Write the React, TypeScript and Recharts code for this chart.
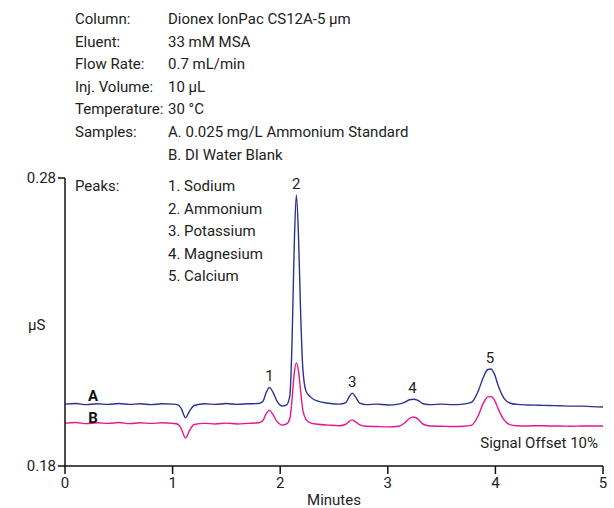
import React from 'react';
import {
  ComposedChart,
  Line,
  XAxis,
  YAxis,
  ReferenceDot,
} from 'recharts';

// retention time (min)
const minutes = [
  0, 0.1, 0.2, 0.3, 0.4, 0.5, 0.6, 0.7, 0.8, 0.9, 1.0, 1.05, 1.08, 1.12, 1.16, 1.2,
  1.3, 1.4, 1.5, 1.6, 1.7, 1.8, 1.84, 1.87, 1.9, 1.93, 1.97, 2.02, 2.06, 2.09, 2.11,
  2.13, 2.15, 2.17, 2.19, 2.21, 2.24, 2.28, 2.35, 2.45, 2.55, 2.61, 2.64, 2.67, 2.7,
  2.74, 2.8, 2.9, 3.0, 3.1, 3.16, 3.2, 3.24, 3.28, 3.33, 3.4, 3.5, 3.6, 3.7, 3.78,
  3.84, 3.89, 3.93, 3.96, 3.99, 4.03, 4.08, 4.14, 4.2, 4.3, 4.4, 4.5, 4.6, 4.7, 4.8,
  4.9, 5.0,
];

// A. 0.025 mg/L ammonium standard (µS)
const sampleA = [
  0.2015, 0.2017, 0.2013, 0.2016, 0.2014, 0.2017, 0.2014, 0.2016, 0.2013, 0.2016,
  0.2015, 0.2012, 0.2, 0.1968, 0.1992, 0.201, 0.2016, 0.2014, 0.2017, 0.2014, 0.2016,
  0.2017, 0.2025, 0.2055, 0.2073, 0.2058, 0.2025, 0.2008, 0.2012, 0.2045, 0.223,
  0.256, 0.2741, 0.26, 0.233, 0.214, 0.206, 0.204, 0.2025, 0.2018, 0.2015, 0.202,
  0.204, 0.2053, 0.204, 0.2018, 0.2013, 0.2015, 0.2012, 0.2015, 0.2022, 0.203,
  0.2032, 0.2028, 0.2016, 0.2013, 0.2015, 0.2013, 0.2015, 0.2022, 0.206, 0.211,
  0.2135, 0.2137, 0.212, 0.2075, 0.2035, 0.2018, 0.2014, 0.2012, 0.2011, 0.201,
  0.2009, 0.2008, 0.2008, 0.2006, 0.2005,
];

// B. DI water blank (µS)
const sampleB = [
  0.1949, 0.1951, 0.1947, 0.195, 0.1948, 0.1951, 0.1947, 0.195, 0.1948, 0.195,
  0.1948, 0.1945, 0.193, 0.1897, 0.1925, 0.1944, 0.1948, 0.1946, 0.1949, 0.1946,
  0.1948, 0.195, 0.1958, 0.1982, 0.1994, 0.198, 0.1955, 0.1942, 0.1946, 0.1965,
  0.203, 0.212, 0.2158, 0.213, 0.206, 0.1995, 0.1962, 0.195, 0.1945, 0.1942, 0.194,
  0.1945, 0.1955, 0.196, 0.1953, 0.1943, 0.1938, 0.1937, 0.1936, 0.1938, 0.195,
  0.1965, 0.197, 0.1963, 0.1945, 0.1939, 0.1938, 0.1937, 0.1938, 0.1942, 0.1975,
  0.202, 0.204, 0.2041, 0.203, 0.1995, 0.196, 0.1943, 0.194, 0.1939, 0.194, 0.1939,
  0.1939, 0.1938, 0.1939, 0.1939, 0.1939,
];

const peakNumbers = ['1', '2', '3', '4', '5'];
const peakTimes = [1.9, 2.15, 2.67, 3.23, 3.95];
const peakTops = [0.2073, 0.2741, 0.2053, 0.2032, 0.2137];

// trace tags "A" / "B" sit just above each trace near the start
const traceTags = ['A', 'B'];
const traceTagTime = 0.26;
const traceTagLevel = [0.2015, 0.1949];

const infoLabels = ['Column:', 'Eluent:', 'Flow Rate:', 'Inj. Volume:', 'Temperature:', 'Samples:', ''];
const infoValues = [
  'Dionex IonPac CS12A-5 µm',
  '33 mM MSA',
  '0.7 mL/min',
  '10 µL',
  '30 °C',
  'A. 0.025 mg/L Ammonium Standard',
  'B. DI Water Blank',
];
const peakNames = ['1. Sodium', '2. Ammonium', '3. Potassium', '4. Magnesium', '5. Calcium'];

const xTicks = [0, 1, 2, 3, 4, 5];
const yTicks = [0.18, 0.28];

const FONT = '"Roboto", "Liberation Sans", sans-serif';
const BLUE = '#2f3192';
const PINK = '#e9168c';

const data = minutes.map((t, i) => ({ t, a: sampleA[i], b: sampleB[i] }));

const txt: React.CSSProperties = {
  position: 'absolute',
  fontSize: 15,
  color: '#222',
  whiteSpace: 'nowrap',
  lineHeight: '18px',
};

export default function App() {
  return (
    <div style={{ position: 'absolute', left: 0, top: 0, width: 614, height: 508, background: '#fff', fontFamily: FONT }}>
      <ComposedChart
        width={614}
        height={508}
        data={data}
        margin={{ top: 178, right: 11, bottom: 0, left: 5 }}
        style={{ fontFamily: FONT }}
      >
        <XAxis
          dataKey="t"
          type="number"
          domain={[0, 5]}
          ticks={xTicks}
          interval={0}
          height={42}
          tickSize={8}
          tickMargin={3}
          axisLine={{ stroke: '#111', strokeWidth: 1.5 }}
          tickLine={{ stroke: '#111', strokeWidth: 1.5 }}
          tick={{ fill: '#222', fontSize: 15 }}
          label={{ value: 'Minutes', position: 'insideBottom', offset: 3, fill: '#222', fontSize: 15 }}
        />
        <YAxis
          type="number"
          domain={[0.18, 0.28]}
          ticks={yTicks}
          interval={0}
          width={60}
          tickSize={7}
          tickMargin={2}
          allowDataOverflow
          axisLine={{ stroke: '#111', strokeWidth: 1.5 }}
          tickLine={{ stroke: '#111', strokeWidth: 1.5 }}
          tick={{ fill: '#222', fontSize: 15 }}
          tickFormatter={(v: number) => v.toFixed(2)}
        />
        <Line
          type="monotone"
          dataKey="b"
          stroke={PINK}
          strokeWidth={1.4}
          dot={false}
          isAnimationActive={false}
        />
        <Line
          type="monotone"
          dataKey="a"
          stroke={BLUE}
          strokeWidth={1.4}
          dot={false}
          isAnimationActive={false}
        />
        {peakNumbers.map((n, i) => (
          <ReferenceDot
            key={n}
            x={peakTimes[i]}
            y={peakTops[i]}
            r={0}
            ifOverflow="visible"
            label={{ value: n, position: 'top', offset: 6, fill: '#222', fontSize: 15 }}
          />
        ))}
        {traceTags.map((tag, i) => (
          <ReferenceDot
            key={tag}
            x={traceTagTime}
            y={traceTagLevel[i]}
            r={0}
            label={{ value: tag, position: 'top', offset: i === 0 ? 3 : 0, fill: '#111', fontSize: 15, fontWeight: 'bold' }}
          />
        ))}
      </ComposedChart>

      {infoLabels.map((l, i) => (
        <div key={'l' + i} style={{ ...txt, left: 75, top: 10 + i * 22.6 }}>{l}</div>
      ))}
      {infoValues.map((v, i) => (
        <div key={'v' + i} style={{ ...txt, left: 168, top: 10 + i * 22.6 }}>{v}</div>
      ))}
      <div style={{ ...txt, left: 75, top: 177 }}>Peaks:</div>
      {peakNames.map((p, i) => (
        <div key={p} style={{ ...txt, left: 168, top: 177 + i * 22.6 }}>{p}</div>
      ))}
      <div style={{ ...txt, left: 28, top: 316 }}>µS</div>
      <div style={{ ...txt, right: 16, top: 434 }}>Signal Offset 10%</div>
    </div>
  );
}
